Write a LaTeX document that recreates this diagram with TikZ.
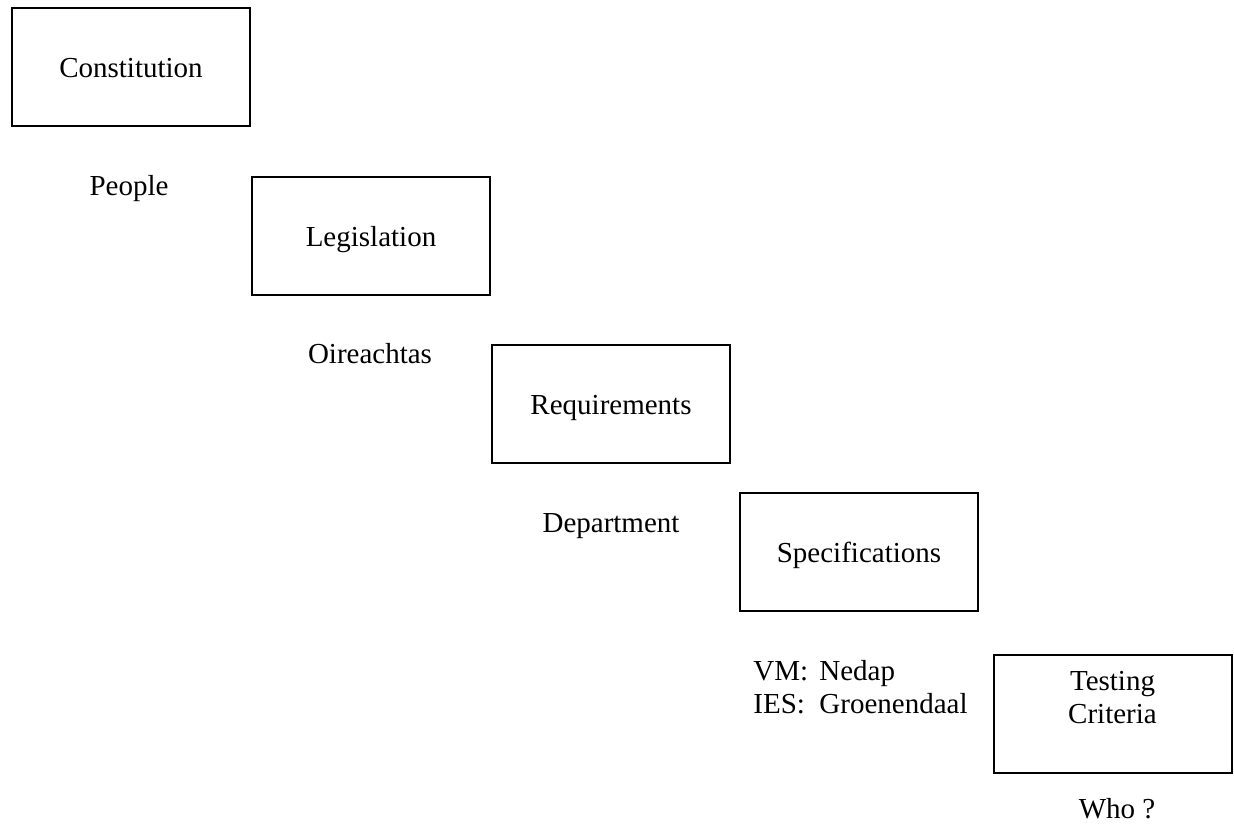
\documentclass[tikz,border=0pt]{standalone}
\usepackage{fontspec}
\setmainfont{Liberation Serif}

\begin{document}
\begin{tikzpicture}[
  x=0.5pt, y=-0.5pt,
  every node/.style={font=\fontsize{14.5}{16.5}\selectfont},
  box/.style={draw, line width=1pt, minimum width=119pt, minimum height=59pt,
    text height=10.5pt, text depth=0pt},
  lbl/.style={anchor=base, inner sep=0pt}
]
\useasboundingbox (0,0) rectangle (1234,823);

\node[box] (cons) at (131,67.5) {Constitution};
\node[box] (legis) at (371,236) {Legislation};
\node[box] (req) at (611,404) {Requirements};
\node[box] (spec) at (859,552) {Specifications};
\node[draw, line width=1pt, minimum width=119pt, minimum height=59pt, align=center]
  (test) at (1112.5,714) {Testing\\Criteria\\\mbox{}};

\node[lbl] (people) at (129,196) {People};
\node[lbl] (oir) at (370,363) {Oireachtas};
\node[lbl] (dept) at (611,532) {Department};
\node[lbl, anchor=base west, align=left] (vendors) at (753,713)
  {\makebox[33pt][l]{VM:}Nedap\\\makebox[33pt][l]{IES:}Groenendaal};
\node[lbl] (who) at (1117,818) {Who ?};

\end{tikzpicture}
\end{document}
